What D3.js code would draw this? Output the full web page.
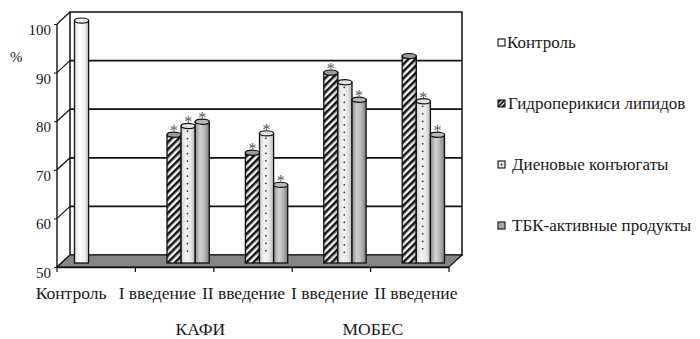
<!DOCTYPE html>
<html>
<head>
<meta charset="utf-8">
<script src="https://cdn.jsdelivr.net/npm/d3@7/dist/d3.min.js"></script>
<style>
  html, body { margin: 0; padding: 0; background: #fff; }
  svg { display: block; }
  svg text { font-family: "Liberation Serif", "DejaVu Serif", "Tinos", "Times New Roman", serif; }
</style>
</head>
<body>
<svg id="chart" width="700" height="339"></svg>
<script>
// Categories along the x axis
const categories = ["ctrl", "kafi1", "kafi2", "mobes1", "mobes2"];
const categoryLabels = ["Контроль", "I введение", "II введение", "I введение", "II введение"];
const groups = [
  { name: "КАФИ", members: ["kafi1", "kafi2"] },
  { name: "МОБЕС", members: ["mobes1", "mobes2"] }
];

// Series (null = no bar)
const seriesNames = ["Контроль", "Гидроперикиси липидов", "Диеновые конъюгаты", "ТБК-активные продукты"];
const controlValues = [100, null, null, null, null];
const hydroperoxideValues = [null, 76.5, 72.8, 89.3, 92.7];
const dieneValues = [null, 78.3, 76.8, 87.3, 83.4];
const tbaValues = [null, 79.2, 66.2, 83.7, 76.5];

// Significance marks (asterisks) per series
const controlMarks = [0, 0, 0, 0, 0];
const hydroperoxideMarks = [0, 1, 1, 1, 0];
const dieneMarks = [0, 1, 1, 0, 1];
const tbaMarks = [0, 1, 1, 1, 1];

const yTicks = [50, 60, 70, 80, 90, 100];

const series = [
  { key: "ctrl", values: controlValues, marks: controlMarks },
  { key: "hydro", values: hydroperoxideValues, marks: hydroperoxideMarks },
  { key: "diene", values: dieneValues, marks: dieneMarks },
  { key: "tba", values: tbaValues, marks: tbaMarks }
];

const svg = d3.select("#chart");
const defs = svg.append("defs");

// ---- shading for the cylinders ----
function hGrad(id, stops) {
  const g = defs.append("linearGradient").attr("id", id)
    .attr("x1", "0%").attr("x2", "100%").attr("y1", "0%").attr("y2", "0%");
  stops.forEach(([o, c]) => g.append("stop").attr("offset", o).attr("stop-color", c));
}
hGrad("gCtrl", [["0%", "#d8d8d8"], ["35%", "#ffffff"], ["70%", "#f2f2f2"], ["100%", "#bdbdbd"]]);
hGrad("gDiene", [["0%", "#cfcfcf"], ["35%", "#f4f4f4"], ["70%", "#e6e6e6"], ["100%", "#b4b4b4"]]);
hGrad("gTba", [["0%", "#8e8e8e"], ["35%", "#d2d2d2"], ["65%", "#b8b8b8"], ["100%", "#7c7c7c"]]);
hGrad("gShade", [["0%", "rgba(0,0,0,0.18)"], ["35%", "rgba(0,0,0,0)"], ["70%", "rgba(0,0,0,0.05)"], ["100%", "rgba(0,0,0,0.3)"]]);

// diagonal hatch
const hatch = defs.append("pattern").attr("id", "pHatch")
  .attr("patternUnits", "userSpaceOnUse").attr("width", 5).attr("height", 5)
  .attr("patternTransform", "rotate(45)");
hatch.append("rect").attr("width", 5).attr("height", 5).attr("fill", "#fff");
hatch.append("rect").attr("width", 2.5).attr("height", 5).attr("fill", "#151515");

// ---- geometry ----
const front = { left: 57, right: 449 };
const depth = { dx: 13, dy: -12 };
const barShift = { dx: 6.5, dy: -6 };

const x0 = d3.scaleBand().domain(categories).range([front.left, front.right])
  .paddingInner(0.28).paddingOuter(0.14);
const x1 = d3.scaleBand().domain(series.map(s => s.key)).range([0, x0.bandwidth()]);
const y = d3.scaleLinear().domain([50, 100]).range([267, 24]);

// ---- back wall with grid ----
svg.append("rect")
  .attr("x", front.left + depth.dx).attr("y", y(100) + depth.dy)
  .attr("width", front.right - front.left).attr("height", y(50) - y(100))
  .attr("fill", "#fff").attr("stroke", "#111").attr("stroke-width", 1.5);

svg.append("g").selectAll("line").data(yTicks.filter(t => t > 50 && t < 100)).join("line")
  .attr("x1", front.left + depth.dx).attr("x2", front.right + depth.dx)
  .attr("y1", d => y(d) + depth.dy).attr("y2", d => y(d) + depth.dy)
  .attr("stroke", "#111").attr("stroke-width", 1.7);

// left side wall: diagonals from the front axis to the back wall
svg.append("g").selectAll("line").data(yTicks).join("line")
  .attr("x1", front.left).attr("y1", d => y(d))
  .attr("x2", front.left + depth.dx).attr("y2", d => y(d) + depth.dy)
  .attr("stroke", "#111").attr("stroke-width", 1.2);

// floor
const floorPts = [
  [front.left, y(50)], [front.left + depth.dx, y(50) + depth.dy],
  [front.right + depth.dx, y(50) + depth.dy], [front.right, y(50)]
];
svg.append("polygon").attr("points", floorPts.map(p => p.join(",")).join(" "))
  .attr("fill", "#858585").attr("stroke", "#111").attr("stroke-width", 1.2);

// ---- cylinders ----
const fills = { ctrl: "url(#gCtrl)", hydro: "url(#pHatch)", diene: "url(#gDiene)", tba: "url(#gTba)" };
const capFills = { ctrl: "#efefef", hydro: "#9a9a9a", diene: "#e3e3e3", tba: "#b8b8b8" };

const barData = [];
series.forEach(s => {
  s.values.forEach((v, i) => {
    if (v == null) return;
    barData.push({ key: s.key, cat: categories[i], value: v, mark: s.marks[i] });
  });
});

const baseY = y(50) + barShift.dy + 2;
const bars = svg.append("g").selectAll("g").data(barData).join("g")
  .attr("transform", d => `translate(${x0(d.cat) + x1(d.key) + barShift.dx},0)`);
const bw = x1.bandwidth();
const capR = 2.6;

bars.append("rect")
  .attr("x", 0).attr("width", bw)
  .attr("y", d => y(d.value) + barShift.dy + capR)
  .attr("height", d => baseY - (y(d.value) + barShift.dy + capR))
  .attr("fill", d => fills[d.key]);

// rounded shading over the hatch
bars.filter(d => d.key === "hydro").append("rect")
  .attr("x", 0).attr("width", bw)
  .attr("y", d => y(d.value) + barShift.dy + capR)
  .attr("height", d => baseY - (y(d.value) + barShift.dy + capR))
  .attr("fill", "url(#gShade)");

// dot column on the diene cylinders
bars.filter(d => d.key === "diene").each(function (d) {
  const top = y(d.value) + barShift.dy + capR + 5;
  const n = Math.floor((baseY - top) / 7.5);
  d3.select(this).selectAll("circle.dot").data(d3.range(n)).join("circle")
    .attr("class", "dot").attr("cx", bw * 0.45).attr("cy", k => top + k * 7.5)
    .attr("r", 0.9).attr("fill", "#333");
});

bars.append("rect")
  .attr("x", 0).attr("width", bw)
  .attr("y", d => y(d.value) + barShift.dy + capR)
  .attr("height", d => baseY - (y(d.value) + barShift.dy + capR))
  .attr("fill", "none").attr("stroke", "#111").attr("stroke-width", 1.3);

bars.append("ellipse")
  .attr("cx", bw / 2).attr("cy", d => y(d.value) + barShift.dy + capR)
  .attr("rx", bw / 2).attr("ry", capR)
  .attr("fill", d => capFills[d.key]).attr("stroke", "#111").attr("stroke-width", 1.2);

// significance asterisks
bars.filter(d => d.mark).append("text")
  .attr("x", bw / 2).attr("y", d => y(d.value) + barShift.dy + 4)
  .attr("text-anchor", "middle")
  .attr("font-size", 16).attr("fill", "#555555")
  .text("*");

// ---- front axes ----
svg.append("line")
  .attr("x1", front.left).attr("x2", front.left)
  .attr("y1", y(100)).attr("y2", y(50))
  .attr("stroke", "#111").attr("stroke-width", 1.4);

const yAxis = svg.append("g").attr("transform", `translate(${front.left},0)`)
  .call(d3.axisLeft(y).tickValues(yTicks).tickSize(3).tickPadding(3));
yAxis.attr("font-family", null);
yAxis.select(".domain").remove();
yAxis.selectAll("line").attr("stroke", "#111");
yAxis.selectAll("text")
  .attr("font-size", 15).attr("fill", "#1a1a1a").attr("dy", "0.7em");

svg.append("text").attr("x", 10).attr("y", 62)
  .attr("font-size", 15).attr("fill", "#1a1a1a").text("%");

const xAxis = svg.append("g").attr("transform", `translate(0,${y(50)})`)
  .call(d3.axisBottom(x0).tickValues([]).tickSizeOuter(0));
xAxis.select(".domain").attr("stroke", "#111").attr("stroke-width", 1.4);
xAxis.selectAll(".boundary").data(categories.concat(["end"])).join("line")
  .attr("class", "boundary")
  .attr("x1", (d, i) => i < categories.length ? x0(d) - x0.step() * x0.paddingOuter() : front.right)
  .attr("x2", (d, i) => i < categories.length ? x0(d) - x0.step() * x0.paddingOuter() : front.right)
  .attr("y1", 0).attr("y2", 5).attr("stroke", "#111").attr("stroke-width", 1.2);

// category labels spread on their own band
const xl = d3.scaleBand().domain(categories).range([28, 459]);
svg.append("g").selectAll("text").data(categories).join("text")
  .attr("x", d => xl(d) + xl.bandwidth() / 2).attr("y", 299)
  .attr("text-anchor", "middle").attr("font-size", 17.5).attr("fill", "#1a1a1a")
  .text((d, i) => categoryLabels[i]);

svg.append("g").selectAll("text").data(groups).join("text")
  .attr("x", g => d3.mean(g.members, m => xl(m) + xl.bandwidth() / 2))
  .attr("y", 335)
  .attr("text-anchor", "middle").attr("font-size", 17.5).attr("fill", "#1a1a1a")
  .text(g => g.name);

// ---- legend ----
const hatchL = defs.append("pattern").attr("id", "pHatchL")
  .attr("patternUnits", "userSpaceOnUse").attr("width", 3).attr("height", 3)
  .attr("patternTransform", "rotate(45)");
hatchL.append("rect").attr("width", 3).attr("height", 3).attr("fill", "#222");
hatchL.append("rect").attr("width", 1).attr("height", 3).attr("fill", "#fff");
const legendFills = ["#fff", "url(#pHatchL)", "#e8e8e8", "#a8a8a8"];

const legendY = d3.scalePoint().domain(seriesNames).range([43, 226]);
const legend = svg.append("g").selectAll("g").data(seriesNames).join("g")
  .attr("transform", d => `translate(498,${legendY(d)})`);
legend.append("rect").attr("x", 0).attr("y", -4).attr("width", 7).attr("height", 7)
  .attr("fill", (d, i) => legendFills[i]).attr("stroke", "#111").attr("stroke-width", 1.1);
legend.filter((d, i) => i === 2).append("circle").attr("cx", 3.5).attr("cy", -0.5).attr("r", 0.9).attr("fill", "#222");
legend.append("text").attr("x", (d, i) => i === 0 ? 9 : (i === 1 ? 10 : 14)).attr("y", 5)
  .attr("font-size", 17).attr("fill", "#1a1a1a").text(d => d);
</script>
</body>
</html>
